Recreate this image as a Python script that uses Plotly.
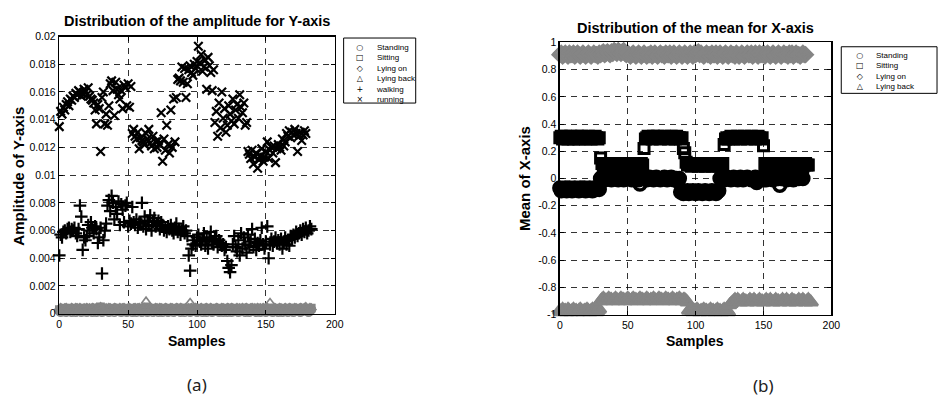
import plotly.graph_objects as go

W, H = 948, 407

# ---------------- data: panel (a) amplitude of Y-axis ----------------
running_a = [
    0.0135, 0.0146, 0.0144, 0.0149, 0.0147, 0.0151, 0.0153, 0.0150, 0.0155, 0.0154,
    0.0157, 0.0156, 0.0159, 0.0158, 0.0161, 0.0160, 0.0157, 0.0159, 0.0162, 0.0160,
    0.0158, 0.0163, 0.0157, 0.0155, 0.0154, 0.0152, 0.0147, 0.0137, 0.0151, 0.0148,
    0.0117, 0.0156, 0.0160, 0.0137, 0.0144, 0.0136, 0.0150, 0.0166, 0.0168, 0.0161,
    0.0143, 0.0167, 0.0162, 0.0158, 0.0155, 0.0161, 0.0148, 0.0165, 0.0163, 0.0150,
    0.0166, 0.0149, 0.0164, 0.0130, 0.0133, 0.0128, 0.0126, 0.0131, 0.0119, 0.0127,
    0.0125, 0.0124, 0.0122, 0.0130, 0.0126, 0.0133, 0.0123, 0.0121, 0.0128, 0.0119,
    0.0124, 0.0120, 0.0125, 0.0122, 0.0145, 0.0110, 0.0126, 0.0118, 0.0136, 0.0122,
    0.0116, 0.0147, 0.0120, 0.0155, 0.0124, 0.0156, 0.0169, 0.0170, 0.0168, 0.0178,
    0.0167, 0.0177, 0.0156, 0.0166, 0.0176, 0.0179, 0.0174, 0.0172, 0.0180, 0.0177,
    0.0182, 0.0193, 0.0181, 0.0187, 0.0175, 0.0178, 0.0183, 0.0162, 0.0185, 0.0179,
    0.0174, 0.0161, 0.0176, 0.0138, 0.0146, 0.0128, 0.0152, 0.0134, 0.0160, 0.0141,
    0.0148, 0.0131, 0.0136, 0.0150, 0.0144, 0.0139, 0.0155, 0.0137, 0.0147, 0.0151,
    0.0141, 0.0158, 0.0149, 0.0145, 0.0152, 0.0136, 0.0138, 0.0117, 0.0115, 0.0112,
    0.0118, 0.0108, 0.0113, 0.0116, 0.0105, 0.0111, 0.0114, 0.0119, 0.0110, 0.0113,
    0.0117, 0.0124, 0.0112, 0.0118, 0.0120, 0.0116, 0.0121, 0.0109, 0.0119, 0.0122,
    0.0120, 0.0118, 0.0126, 0.0121, 0.0124, 0.0130, 0.0128, 0.0132, 0.0127, 0.0131,
    0.0129, 0.0133, 0.0130, 0.0117, 0.0128, 0.0131, 0.0125, 0.0129, 0.0132, 0.0130,
]

walking_a = [
    0.0042, 0.0057, 0.0055, 0.0059, 0.0060, 0.0058, 0.0061, 0.0062, 0.0059, 0.0061,
    0.0060, 0.0062, 0.0058, 0.0056, 0.0061, 0.0078, 0.0070, 0.0046, 0.0055, 0.0053,
    0.0056, 0.0064, 0.0060, 0.0066, 0.0062, 0.0058, 0.0063, 0.0061, 0.0051, 0.0055,
    0.0062, 0.0029, 0.0053, 0.0060, 0.0065, 0.0078, 0.0082, 0.0074, 0.0085, 0.0080,
    0.0068, 0.0077, 0.0072, 0.0081, 0.0064, 0.0079, 0.0075, 0.0066, 0.0078, 0.0080,
    0.0063, 0.0067, 0.0065, 0.0077, 0.0066, 0.0064, 0.0068, 0.0062, 0.0065, 0.0066,
    0.0080, 0.0063, 0.0070, 0.0061, 0.0067, 0.0064, 0.0071, 0.0060, 0.0066, 0.0069,
    0.0063, 0.0065, 0.0067, 0.0061, 0.0066, 0.0064, 0.0060, 0.0062, 0.0059, 0.0063,
    0.0061, 0.0064, 0.0060, 0.0058, 0.0062, 0.0065, 0.0059, 0.0061, 0.0057, 0.0060,
    0.0063, 0.0058, 0.0060, 0.0056, 0.0042, 0.0031, 0.0047, 0.0050, 0.0053, 0.0049,
    0.0055, 0.0057, 0.0052, 0.0050, 0.0054, 0.0058, 0.0049, 0.0053, 0.0047, 0.0055,
    0.0059, 0.0052, 0.0050, 0.0054, 0.0056, 0.0048, 0.0053, 0.0051, 0.0049, 0.0050,
    0.0046, 0.0048, 0.0038, 0.0033, 0.0030, 0.0035, 0.0050, 0.0056, 0.0048, 0.0045,
    0.0053, 0.0042, 0.0058, 0.0047, 0.0055, 0.0050, 0.0044, 0.0057, 0.0049, 0.0052,
    0.0061, 0.0048, 0.0054, 0.0046, 0.0051, 0.0049, 0.0053, 0.0062, 0.0050, 0.0047,
    0.0052, 0.0063, 0.0040, 0.0050, 0.0054, 0.0049, 0.0052, 0.0055, 0.0051, 0.0053,
    0.0050, 0.0054, 0.0047, 0.0052, 0.0055, 0.0050, 0.0053, 0.0049, 0.0056, 0.0054,
    0.0057, 0.0055, 0.0059, 0.0056, 0.0058, 0.0060, 0.0057, 0.0061, 0.0059, 0.0062,
    0.0058, 0.0060, 0.0063, 0.0061,
]

standing_a = [
    2e-4, 1e-4, 2e-4, 3e-4, 2e-4, 1e-4, 2e-4, 2e-4, 3e-4, 1e-4,
    2e-4, 2e-4, 1e-4, 3e-4, 2e-4, 2e-4, 1e-4, 2e-4, 3e-4, 2e-4,
    1e-4, 2e-4, 2e-4, 3e-4, 1e-4, 2e-4, 2e-4, 1e-4, 3e-4, 2e-4,
    2e-4, 1e-4, 2e-4, 2e-4, 3e-4, 2e-4, 1e-4, 2e-4, 2e-4, 3e-4,
    1e-4, 2e-4, 3e-4, 2e-4, 2e-4, 1e-4, 2e-4, 3e-4, 2e-4, 1e-4,
    2e-4, 2e-4, 3e-4, 1e-4, 2e-4, 2e-4, 1e-4, 3e-4, 2e-4, 2e-4,
    1e-4, 2e-4, 3e-4, 2e-4, 1e-4, 2e-4, 2e-4, 3e-4, 1e-4, 2e-4,
    2e-4, 3e-4, 1e-4, 2e-4, 2e-4, 1e-4, 3e-4, 2e-4, 2e-4, 1e-4,
    2e-4, 3e-4, 2e-4, 1e-4, 2e-4, 2e-4, 3e-4, 2e-4, 1e-4, 2e-4,
    2e-4, 1e-4, 3e-4, 2e-4, 2e-4, 1e-4, 2e-4, 3e-4, 2e-4, 2e-4,
    1e-4, 2e-4, 2e-4, 3e-4, 1e-4, 2e-4, 2e-4, 1e-4, 3e-4, 2e-4,
    2e-4, 1e-4, 2e-4, 3e-4, 2e-4, 2e-4, 1e-4, 2e-4, 3e-4, 1e-4,
    2e-4, 2e-4, 1e-4, 3e-4, 2e-4, 1e-4, 2e-4, 2e-4, 3e-4, 2e-4,
    1e-4, 2e-4, 3e-4, 2e-4, 2e-4, 1e-4, 2e-4, 3e-4, 1e-4, 2e-4,
    2e-4, 3e-4, 2e-4, 1e-4, 2e-4, 2e-4, 1e-4, 3e-4, 2e-4, 2e-4,
    1e-4, 2e-4, 2e-4, 3e-4, 2e-4, 1e-4, 2e-4, 2e-4, 3e-4, 1e-4,
    2e-4, 2e-4, 1e-4, 3e-4, 2e-4, 2e-4, 1e-4, 2e-4, 3e-4, 2e-4,
    1e-4, 2e-4, 3e-4, 2e-4, 2e-4, 1e-4, 2e-4, 2e-4, 3e-4, 2e-4,
    2e-4, 1e-4, 2e-4, 3e-4,
]

sitting_a = [
    3e-4, 2e-4, 2e-4, 3e-4, 4e-4, 2e-4, 3e-4, 3e-4, 2e-4, 3e-4,
    4e-4, 3e-4, 2e-4, 3e-4, 3e-4, 2e-4, 4e-4, 3e-4, 2e-4, 3e-4,
    3e-4, 4e-4, 2e-4, 3e-4, 3e-4, 2e-4, 3e-4, 4e-4, 3e-4, 2e-4,
    5e-4, 3e-4, 2e-4, 3e-4, 4e-4, 3e-4, 2e-4, 3e-4, 3e-4, 4e-4,
    2e-4, 3e-4, 3e-4, 4e-4, 2e-4, 3e-4, 3e-4, 2e-4, 4e-4, 3e-4,
    3e-4, 2e-4, 3e-4, 4e-4, 3e-4, 2e-4, 3e-4, 3e-4, 4e-4, 2e-4,
    3e-4, 3e-4, 4e-4, 2e-4, 3e-4, 3e-4, 2e-4, 4e-4, 3e-4, 3e-4,
    2e-4, 3e-4, 4e-4, 3e-4, 2e-4, 3e-4, 3e-4, 4e-4, 2e-4, 3e-4,
    3e-4, 2e-4, 3e-4, 4e-4, 3e-4, 3e-4, 2e-4, 3e-4, 4e-4, 3e-4,
    2e-4, 3e-4, 3e-4, 4e-4, 2e-4, 3e-4, 3e-4, 2e-4, 4e-4, 3e-4,
    3e-4, 4e-4, 2e-4, 3e-4, 3e-4, 2e-4, 3e-4, 4e-4, 3e-4, 2e-4,
    3e-4, 3e-4, 4e-4, 2e-4, 3e-4, 3e-4, 2e-4, 4e-4, 3e-4, 3e-4,
    2e-4, 3e-4, 4e-4, 3e-4, 2e-4, 3e-4, 3e-4, 4e-4, 2e-4, 3e-4,
    3e-4, 2e-4, 3e-4, 4e-4, 3e-4, 3e-4, 2e-4, 3e-4, 4e-4, 3e-4,
    2e-4, 3e-4, 3e-4, 4e-4, 2e-4, 3e-4, 3e-4, 2e-4, 4e-4, 3e-4,
    3e-4, 4e-4, 2e-4, 3e-4, 3e-4, 2e-4, 3e-4, 4e-4, 3e-4, 2e-4,
    3e-4, 3e-4, 4e-4, 2e-4, 3e-4, 3e-4, 2e-4, 4e-4, 3e-4, 3e-4,
    2e-4, 3e-4, 4e-4, 3e-4, 2e-4, 3e-4, 3e-4, 4e-4, 2e-4, 3e-4,
    3e-4, 2e-4, 3e-4, 4e-4,
]

lying_on_a = [
    3e-4, 4e-4, 3e-4, 2e-4, 3e-4, 4e-4, 3e-4, 3e-4, 2e-4, 4e-4,
    3e-4, 3e-4, 4e-4, 2e-4, 3e-4, 4e-4, 3e-4, 3e-4, 2e-4, 3e-4,
    4e-4, 3e-4, 3e-4, 2e-4, 4e-4, 3e-4, 3e-4, 4e-4, 2e-4, 3e-4,
    3e-4, 4e-4, 3e-4, 2e-4, 3e-4, 3e-4, 4e-4, 3e-4, 2e-4, 3e-4,
    4e-4, 3e-4, 3e-4, 2e-4, 4e-4, 3e-4, 3e-4, 4e-4, 3e-4, 2e-4,
    3e-4, 4e-4, 3e-4, 3e-4, 2e-4, 4e-4, 3e-4, 3e-4, 4e-4, 2e-4,
    3e-4, 3e-4, 4e-4, 3e-4, 2e-4, 3e-4, 4e-4, 3e-4, 3e-4, 2e-4,
    4e-4, 3e-4, 3e-4, 4e-4, 2e-4, 3e-4, 3e-4, 4e-4, 3e-4, 2e-4,
    3e-4, 4e-4, 3e-4, 3e-4, 2e-4, 4e-4, 3e-4, 3e-4, 4e-4, 3e-4,
    2e-4, 3e-4, 4e-4, 3e-4, 3e-4, 2e-4, 4e-4, 3e-4, 3e-4, 4e-4,
    3e-4, 2e-4, 3e-4, 4e-4, 3e-4, 3e-4, 2e-4, 4e-4, 3e-4, 3e-4,
    4e-4, 2e-4, 3e-4, 3e-4, 4e-4, 3e-4, 2e-4, 3e-4, 4e-4, 3e-4,
    3e-4, 2e-4, 4e-4, 3e-4, 3e-4, 4e-4, 3e-4, 2e-4, 3e-4, 4e-4,
    3e-4, 3e-4, 2e-4, 4e-4, 3e-4, 3e-4, 4e-4, 2e-4, 3e-4, 3e-4,
    4e-4, 3e-4, 2e-4, 3e-4, 4e-4, 3e-4, 3e-4, 2e-4, 4e-4, 3e-4,
    3e-4, 4e-4, 3e-4, 2e-4, 3e-4, 3e-4, 4e-4, 3e-4, 2e-4, 3e-4,
    4e-4, 3e-4, 3e-4, 2e-4, 4e-4, 3e-4, 3e-4, 4e-4, 3e-4, 2e-4,
    3e-4, 4e-4, 3e-4, 3e-4, 2e-4, 4e-4, 3e-4, 3e-4, 4e-4, 3e-4,
    2e-4, 3e-4, 4e-4, 3e-4,
]

lying_back_a = [
    3e-4, 2e-4, 3e-4, 3e-4, 4e-4, 3e-4, 2e-4, 3e-4, 3e-4, 4e-4,
    3e-4, 3e-4, 2e-4, 4e-4, 3e-4, 3e-4, 2e-4, 3e-4, 4e-4, 3e-4,
    3e-4, 2e-4, 4e-4, 3e-4, 3e-4, 4e-4, 2e-4, 3e-4, 3e-4, 4e-4,
    5e-4, 3e-4, 3e-4, 2e-4, 4e-4, 3e-4, 3e-4, 4e-4, 2e-4, 3e-4,
    3e-4, 4e-4, 3e-4, 2e-4, 3e-4, 3e-4, 4e-4, 3e-4, 2e-4, 3e-4,
    4e-4, 3e-4, 3e-4, 2e-4, 4e-4, 3e-4, 3e-4, 4e-4, 3e-4, 2e-4,
    3e-4, 3e-4, 4e-4, 9e-4, 3e-4, 2e-4, 3e-4, 4e-4, 3e-4, 3e-4,
    2e-4, 4e-4, 3e-4, 3e-4, 4e-4, 2e-4, 3e-4, 3e-4, 4e-4, 3e-4,
    2e-4, 3e-4, 4e-4, 3e-4, 3e-4, 2e-4, 4e-4, 3e-4, 3e-4, 4e-4,
    3e-4, 2e-4, 3e-4, 3e-4, 4e-4, 8e-4, 3e-4, 2e-4, 3e-4, 4e-4,
    3e-4, 3e-4, 2e-4, 4e-4, 3e-4, 3e-4, 4e-4, 2e-4, 3e-4, 3e-4,
    4e-4, 3e-4, 2e-4, 3e-4, 3e-4, 4e-4, 3e-4, 2e-4, 3e-4, 4e-4,
    3e-4, 3e-4, 2e-4, 4e-4, 3e-4, 3e-4, 4e-4, 3e-4, 2e-4, 3e-4,
    3e-4, 4e-4, 3e-4, 2e-4, 3e-4, 4e-4, 3e-4, 3e-4, 2e-4, 4e-4,
    3e-4, 3e-4, 4e-4, 2e-4, 3e-4, 3e-4, 4e-4, 3e-4, 2e-4, 3e-4,
    4e-4, 3e-4, 3e-4, 8e-4, 3e-4, 2e-4, 3e-4, 4e-4, 3e-4, 3e-4,
    2e-4, 4e-4, 3e-4, 3e-4, 4e-4, 2e-4, 3e-4, 3e-4, 4e-4, 3e-4,
    2e-4, 3e-4, 4e-4, 3e-4, 3e-4, 2e-4, 4e-4, 3e-4, 3e-4, 5e-4,
    3e-4, 2e-4, 3e-4, 4e-4,
]

# ---------------- data: panel (b) mean of X-axis ----------------
standing_b = [
    -0.07, -0.09, -0.08, -0.08, -0.07, -0.09, -0.08, -0.07, -0.08, -0.09,
    -0.08, -0.07, -0.08, -0.08, -0.09, -0.07, -0.08, -0.08, -0.07, -0.09,
    -0.08, -0.08, -0.07, -0.08, -0.09, -0.08, -0.07, -0.08, -0.06, -0.08,
    0.00, 0.01, 0.00, -0.01, 0.00, 0.01, 0.00, 0.00, -0.01, 0.00,
    0.01, 0.00, 0.00, -0.01, 0.00, 0.01, 0.00, -0.01, 0.00, 0.00,
    0.01, 0.00, 0.00, -0.01, 0.00, 0.00, 0.01, 0.00, -0.01, -0.04,
    0.00, 0.01, 0.00, 0.00, -0.01, 0.00, 0.01, 0.00, 0.00, -0.01,
    0.00, 0.01, 0.00, 0.00, -0.01, 0.00, 0.00, 0.01, 0.00, -0.01,
    0.00, 0.00, 0.01, 0.00, -0.01, 0.00, 0.00, -0.02, 0.00,
    -0.10, -0.09, -0.11, -0.10, -0.10, -0.09, -0.11, -0.10, -0.10, -0.09,
    -0.10, -0.11, -0.10, -0.09, -0.10, -0.10, -0.11, -0.10, -0.09, -0.10,
    -0.10, -0.11, -0.10, -0.09, -0.10, -0.10, -0.11, -0.10, -0.09,
    0.00, 0.01, 0.00, -0.01, 0.00, 0.01, 0.00, 0.00, -0.01, 0.00,
    0.01, 0.00, 0.00, -0.01, 0.00, 0.01, 0.00, -0.01, 0.00, 0.00,
    0.01, 0.00, 0.00, -0.01, 0.00, 0.00, 0.01, -0.03, -0.01, 0.00,
    0.00, 0.01, 0.00, 0.00, -0.01, 0.00, 0.01, 0.00, 0.00, -0.01,
    0.00, 0.01, 0.00, 0.00, -0.05, 0.00, 0.00, 0.01, 0.00, -0.01,
    0.00, 0.00, 0.01, 0.00, -0.01, 0.00, 0.00, 0.02, 0.00, 0.01,
    0.03, 0.00,
]

sitting_b = [
    0.30, 0.31, 0.29, 0.30, 0.31, 0.30, 0.29, 0.30, 0.31, 0.30,
    0.29, 0.30, 0.30, 0.31, 0.29, 0.30, 0.31, 0.30, 0.30, 0.29,
    0.30, 0.31, 0.30, 0.29, 0.30, 0.30, 0.31, 0.30, 0.29, 0.30,
    0.15, 0.11, 0.10, 0.09, 0.10, 0.11, 0.10, 0.10, 0.09, 0.10,
    0.11, 0.10, 0.09, 0.10, 0.10, 0.11, 0.10, 0.09, 0.10, 0.10,
    0.11, 0.10, 0.10, 0.09, 0.10, 0.11, 0.10, 0.10, 0.09, 0.10,
    0.11, 0.10,
    0.22, 0.29, 0.30, 0.31, 0.30, 0.30, 0.29, 0.31, 0.30, 0.30,
    0.31, 0.30, 0.29, 0.30, 0.30, 0.31, 0.30, 0.30, 0.29, 0.30,
    0.31, 0.30, 0.30, 0.29, 0.31, 0.30, 0.30, 0.29, 0.30, 0.22,
    0.19, 0.12, 0.10, 0.11, 0.10, 0.09, 0.10, 0.11, 0.10, 0.10,
    0.09, 0.10, 0.11, 0.10, 0.10, 0.09, 0.10, 0.11, 0.10, 0.10,
    0.09, 0.10, 0.10, 0.11, 0.10, 0.09, 0.10, 0.10, 0.11,
    0.25, 0.29, 0.30, 0.29, 0.30, 0.31, 0.30, 0.29, 0.30, 0.30,
    0.31, 0.30, 0.29, 0.30, 0.30, 0.31, 0.30, 0.29, 0.30, 0.30,
    0.31, 0.30, 0.30, 0.29, 0.30, 0.31, 0.30, 0.29, 0.30, 0.24,
    0.11, 0.10, 0.09, 0.10, 0.10, 0.11, 0.10, 0.09, 0.10, 0.10,
    0.11, 0.10, 0.10, 0.09, 0.10, 0.11, 0.10, 0.10, 0.09, 0.10,
    0.11, 0.10, 0.10, 0.09, 0.10, 0.11, 0.10, 0.10, 0.09, 0.10,
    0.11, 0.10, 0.10,
]

lying_on_b = [
    0.91, 0.92, 0.90, 0.91, 0.92, 0.91, 0.90, 0.92, 0.91, 0.91,
    0.92, 0.90, 0.91, 0.92, 0.91, 0.90, 0.91, 0.92, 0.91, 0.90,
    0.91, 0.92, 0.91, 0.90, 0.91, 0.92, 0.91, 0.91, 0.90, 0.92,
    0.91, 0.92, 0.93, 0.91, 0.92, 0.93, 0.92, 0.91, 0.93, 0.92,
    0.94, 0.93, 0.92, 0.94, 0.93, 0.92, 0.93, 0.94, 0.92, 0.91,
    0.92, 0.91, 0.90, 0.91, 0.92, 0.91, 0.90, 0.91, 0.92, 0.91,
    0.90, 0.91, 0.92, 0.91, 0.90, 0.91, 0.91, 0.92, 0.90, 0.91,
    0.92, 0.91, 0.90, 0.91, 0.92, 0.91, 0.91, 0.90, 0.92, 0.91,
    0.91, 0.92, 0.90, 0.91, 0.92, 0.91, 0.90, 0.91, 0.92, 0.91,
    0.90, 0.91, 0.92, 0.91, 0.90, 0.91, 0.92, 0.91, 0.90, 0.92,
    0.91, 0.92, 0.93, 0.91, 0.92, 0.91, 0.90, 0.91, 0.92, 0.91,
    0.91, 0.90, 0.92, 0.91, 0.91, 0.92, 0.90, 0.91, 0.92, 0.91,
    0.90, 0.91, 0.92, 0.91, 0.90, 0.91, 0.92, 0.91, 0.91, 0.90,
    0.92, 0.91, 0.90, 0.91, 0.92, 0.91, 0.90, 0.91, 0.92, 0.91,
    0.91, 0.92, 0.90, 0.91, 0.92, 0.91, 0.90, 0.92, 0.91, 0.91,
    0.92, 0.90, 0.91, 0.92, 0.91, 0.90, 0.91, 0.92, 0.91, 0.90,
    0.91, 0.92, 0.91, 0.90, 0.91, 0.92, 0.91, 0.91, 0.90, 0.92,
    0.91, 0.92, 0.90, 0.91, 0.92, 0.91, 0.91, 0.90, 0.91, 0.92,
    0.91, 0.91,
]

lying_back_b = [
    -0.97, -0.98, -0.96, -0.97, -0.97, -0.98, -0.96, -0.97, -0.98, -0.97,
    -0.96, -0.97, -0.97, -0.98, -0.97, -0.96, -0.97, -0.98, -0.97, -0.97,
    -0.96, -0.97, -0.98, -0.97, -0.96, -0.97, -0.97, -0.98, -0.97, -0.96,
    -0.90, -0.89, -0.88, -0.89, -0.90, -0.89, -0.88, -0.89, -0.89, -0.90,
    -0.89, -0.88, -0.89, -0.90, -0.89, -0.88, -0.89, -0.89, -0.90, -0.89,
    -0.88, -0.89, -0.90, -0.89, -0.88, -0.89, -0.89, -0.90, -0.89, -0.88,
    -0.89, -0.89, -0.90, -0.89, -0.88, -0.89, -0.90, -0.89, -0.89, -0.88,
    -0.89, -0.90, -0.89, -0.88, -0.89, -0.89, -0.90, -0.89, -0.88, -0.89,
    -0.89, -0.90, -0.89, -0.88, -0.89, -0.90, -0.89, -0.89, -0.88, -0.89,
    -0.90, -0.89, -0.89, -0.90, -0.91,
    -0.97, -0.96, -0.97, -0.98, -0.97, -0.97, -0.96, -0.97, -0.98, -0.97,
    -0.97, -0.96, -0.97, -0.97, -0.98, -0.97, -0.96, -0.97, -0.97, -0.98,
    -0.97, -0.96, -0.97, -0.97, -0.98, -0.97, -0.96, -0.97, -0.97, -0.98,
    -0.93, -0.92, -0.91, -0.90, -0.89, -0.90, -0.89, -0.90, -0.91, -0.90,
    -0.89, -0.90, -0.90, -0.91, -0.90, -0.89, -0.90, -0.90, -0.89, -0.90,
    -0.91, -0.90, -0.89, -0.90, -0.90, -0.91, -0.90, -0.89, -0.90, -0.90,
    -0.89, -0.90, -0.91, -0.90, -0.89, -0.90, -0.90, -0.91, -0.90, -0.89,
    -0.90, -0.90, -0.89, -0.90, -0.91, -0.90, -0.89, -0.90, -0.90, -0.91,
    -0.90, -0.89, -0.90, -0.90, -0.89, -0.90, -0.91, -0.90, -0.89, -0.90,
    -0.91,
]

x_ticks = [0, 50, 100, 150, 200]
y_ticks_a = [0, 0.002, 0.004, 0.006, 0.008, 0.01, 0.012, 0.014, 0.016, 0.018, 0.02]
y_ticklabels_a = ["0", "0.002", "0.004", "0.006", "0.008", "0.01", "0.012",
                  "0.014", "0.016", "0.018", "0.02"]
y_ticks_b = [-1, -0.8, -0.6, -0.4, -0.2, 0, 0.2, 0.4, 0.6, 0.8, 1]
y_ticklabels_b = ["-1", "-0.8", "-0.6", "-0.4", "-0.2", "0", "0.2", "0.4",
                  "0.6", "0.8", "1"]

legend_a_labels = ["Standing", "Sitting", "Lying on", "Lying back", "walking", "running"]
legend_b_labels = ["Standing", "Sitting", "Lying on", "Lying back"]
legend_glyphs = ["○", "□", "◇", "△", "+", "×"]

# ---------------- figure ----------------
FONT = "Liberation Sans, Arial, sans-serif"
GRAY = "#858585"
fig = go.Figure()


def px_x(p):
    return p / W


def px_y(p):
    return 1 - p / H


def add(vals, symbol, size, color, lw, xa, ya, name):
    fig.add_trace(go.Scatter(
        x=list(range(len(vals))), y=vals, mode="markers", name=name,
        showlegend=False, xaxis=xa, yaxis=ya, cliponaxis=False,
        marker=dict(symbol=symbol, size=size, color=color,
                    line=dict(color=color, width=lw)),
    ))


# panel (a)
add(standing_a, "circle-open", 8, GRAY, 1.6, "x", "y", "Standing")
add(sitting_a, "square-open", 7, GRAY, 1.6, "x", "y", "Sitting")
add(lying_on_a, "diamond-open", 7, GRAY, 1.6, "x", "y", "Lying on")
add(lying_back_a, "triangle-up-open", 8, GRAY, 1.6, "x", "y", "Lying back")
add(walking_a, "cross-thin-open", 9, "black", 2.2, "x", "y", "walking")
add(running_a, "x-thin-open", 8.5, "black", 2.2, "x", "y", "running")

# panel (b)
add(lying_on_b, "diamond-open", 11, GRAY, 2.5, "x2", "y2", "Lying on")
add(lying_back_b, "triangle-up-open", 12, GRAY, 2.5, "x2", "y2", "Lying back")
add(standing_b, "circle-open", 12, "black", 3.5, "x2", "y2", "Standing")
add(sitting_b, "square-open", 10, "black", 3, "x2", "y2", "Sitting")

axis_common = dict(
    showline=True, linecolor="black", linewidth=1.5, mirror="allticks",
    ticks="inside", ticklen=4, tickcolor="black",
    showgrid=True, gridcolor="black", gridwidth=0.8, griddash="6px,5px",
    zeroline=False, tickfont=dict(family=FONT, size=10.5, color="black"),
    fixedrange=True,
)

fig.update_layout(
    width=W, height=H, autosize=False,
    margin=dict(l=0, r=0, t=0, b=0),
    paper_bgcolor="white", plot_bgcolor="white",
    font=dict(family=FONT, color="black"),
    showlegend=False,
    hovermode=False,
    xaxis=dict(domain=[px_x(57), px_x(336)], range=[0, 200], tickvals=x_ticks,
               anchor="y", **axis_common),
    yaxis=dict(domain=[px_y(317), px_y(31.5)], range=[0, 0.02],
               tickvals=y_ticks_a, ticktext=y_ticklabels_a, anchor="x", **axis_common),
    xaxis2=dict(domain=[px_x(564), px_x(839)], range=[0, 200], tickvals=x_ticks,
                anchor="y2", **axis_common),
    yaxis2=dict(domain=[px_y(318), px_y(37.5)], range=[-1, 1],
                tickvals=y_ticks_b, ticktext=y_ticklabels_b, anchor="x2", **axis_common),
)

ann = []


def text(x, y, s, size, bold=False, angle=0, xanchor="center", yanchor="middle",
         family=FONT, color="black", align="center"):
    ann.append(dict(
        x=px_x(x), y=px_y(y), xref="paper", yref="paper", showarrow=False,
        text=f"<b>{s}</b>" if bold else s, textangle=angle,
        xanchor=xanchor, yanchor=yanchor, align=align,
        font=dict(family=family, size=size, color=color),
    ))


# titles and axis labels
text(196, 15, "Distribution of the amplitude for Y-axis", 14.5, bold=True)
text(701, 23, "Distribution of the mean for X-axis", 14.5, bold=True)
text(196, 345, "Samples", 14, bold=True)
text(701, 345, "Samples", 14, bold=True)
text(16, 175, "Amplitude of Y-axis", 15, bold=True, angle=-90)
text(528, 178, "Mean of X-axis", 15, bold=True, angle=-90)
text(196, 390, "(a)", 17, family="Noto Sans, sans-serif", color="#222")
text(770, 391, "(b)", 17, family="Noto Sans, sans-serif", color="#222")

# legends (boxed, compact like the original): one glyph column + one label column
shapes = [
    dict(type="rect", xref="paper", yref="paper",
         x0=px_x(345), x1=px_x(418), y0=px_y(100), y1=px_y(33),
         line=dict(color="black", width=1), fillcolor="white"),
    dict(type="rect", xref="paper", yref="paper",
         x0=px_x(849), x1=px_x(946), y0=px_y(90), y1=px_y(42),
         line=dict(color="black", width=1), fillcolor="white"),
]
LEG = 8
text(362, 36, "<br>".join(legend_glyphs), LEG, yanchor="top",
     family="DejaVu Sans, sans-serif")
text(376, 36, "<br>".join(legend_a_labels), LEG, xanchor="left", yanchor="top", align="left")
text(868, 44, "<br>".join(legend_glyphs[:4]), LEG, yanchor="top",
     family="DejaVu Sans, sans-serif")
text(882, 44, "<br>".join(legend_b_labels), LEG, xanchor="left", yanchor="top", align="left")

fig.update_layout(annotations=ann, shapes=shapes)
fig.write_html(
    "out.html",
    config={"displayModeBar": False, "staticPlot": True},
    post_script=(
        "var d=document.getElementById('{plot_id}');"
        "d.style.position='fixed';d.style.top='0';d.style.left='0';"
        "document.body.style.margin='0';document.body.style.padding='0';"
        "document.body.style.height='407px';"
        "document.documentElement.style.overflow='hidden';"
    ),
)
